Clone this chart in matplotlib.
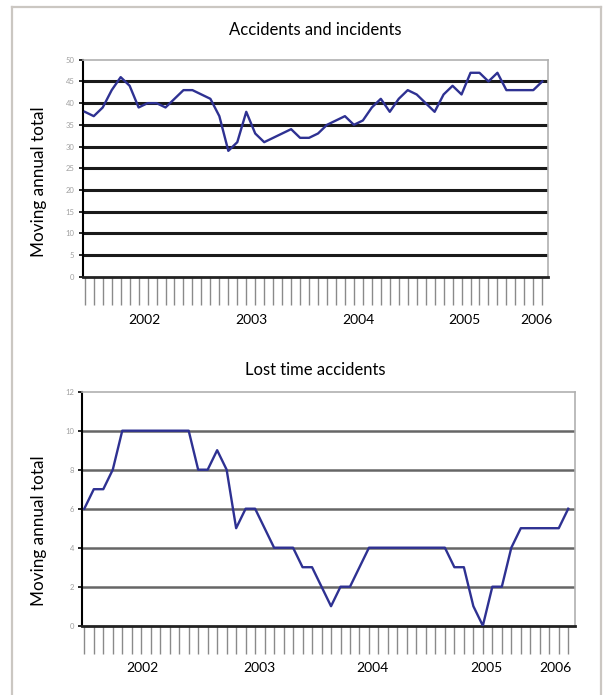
import matplotlib
matplotlib.use('Agg')
import matplotlib.pyplot as plt
import matplotlib.transforms as mtransforms
from matplotlib.lines import Line2D

plt.rcParams['font.family'] = ['Lato', 'DejaVu Sans']

# monthly moving annual totals
accidents_incidents = [38, 37, 39, 43, 46, 44, 39, 40, 40, 39,
                       41, 43, 43, 42, 41, 37, 29, 31, 38, 33,
                       31, 32, 33, 34, 32, 32, 33, 35, 36, 37,
                       35, 36, 39, 41, 38, 41, 43, 42, 40, 38,
                       42, 44, 42, 47, 47, 45, 47, 43, 43, 43,
                       43, 45]
lost_time = [6, 7, 7, 8, 10, 10, 10, 10, 10, 10,
             10, 10, 8, 8, 9, 8, 5, 6, 6, 5,
             4, 4, 4, 3, 3, 2, 1, 2, 2, 3,
             4, 4, 4, 4, 4, 4, 4, 4, 4, 3,
             3, 1, 0, 2, 2, 4, 5, 5, 5, 5,
             5, 6]
years = ['2002', '2003', '2004', '2005', '2006']
year_pos_top = [6.7, 18.6, 30.5, 42.3, 50.3]
year_pos_bot = [6.1, 18.5, 30.4, 42.4, 49.7]

line_col = '#2e3192'

fig = plt.figure(figsize=(6.09, 6.95), dpi=100)

# light outer frame
for xs, ys in [([0.02, 0.02], [0.0, 0.99]), ([0.02, 0.987], [0.99, 0.99]),
               ([0.987, 0.987], [0.0, 0.99])]:
    fig.add_artist(Line2D(xs, ys, color='#cbc7c2', lw=1.6, transform=fig.transFigure))


def draw(ax, vals, ymax, ystep, ypos, grid_col, grid_lw, xright, title, title_y, lab_y,
         ylab_x, ylab_y):
    x = list(range(len(vals)))
    for yv in range(ystep, ymax, ystep):
        ax.axhline(yv, color=grid_col, lw=grid_lw, zorder=1)
    ax.plot(x, vals, color=line_col, lw=1.7, zorder=3, solid_joinstyle='round')
    ax.set_xlim(-0.22, xright)
    ax.set_ylim(0, ymax)
    ax.set_yticks(range(0, ymax + 1, ystep))
    ax.tick_params(axis='y', length=3, width=1.2, color='black', labelsize=5.5,
                   labelcolor='#a0a0a0', pad=3)
    ax.set_xticks(x)
    ax.set_xticklabels([])
    ax.tick_params(axis='x', length=20, width=1.0, color='#8a8a8a', direction='out')
    for s in ['top', 'right']:
        ax.spines[s].set_color('#b0b0b0')
        ax.spines[s].set_linewidth(1.2)
    ax.spines['left'].set_color('black')
    ax.spines['left'].set_linewidth(1.5)
    ax.spines['bottom'].set_color('#222222')
    ax.spines['bottom'].set_linewidth(2.0)
    trans = mtransforms.blended_transform_factory(ax.transData, ax.transAxes)
    for p, t in zip(ypos, years):
        ax.text(p, lab_y, t, transform=trans, ha='center', va='center', fontsize=10)
    ax.set_ylabel('Moving annual total', fontsize=12.3)
    ax.yaxis.set_label_coords(ylab_x, ylab_y)
    fig.text(0.517, title_y, title, ha='center', va='center', fontsize=12)


ax1 = fig.add_axes([0.136, 0.602, 0.764, 0.312])
draw(ax1, accidents_incidents, 50, 5, year_pos_top, '#1a1a1a', 2.2, 51.65,
     'Accidents and incidents', 0.957, -0.2, -0.076, 0.44)

ax2 = fig.add_axes([0.135, 0.0997, 0.809, 0.3367])
draw(ax2, lost_time, 12, 2, year_pos_bot, '#666666', 1.8, 51.7,
     'Lost time accidents', 0.468, -0.18, -0.072, 0.405)

fig.savefig('out.png', dpi=100)
